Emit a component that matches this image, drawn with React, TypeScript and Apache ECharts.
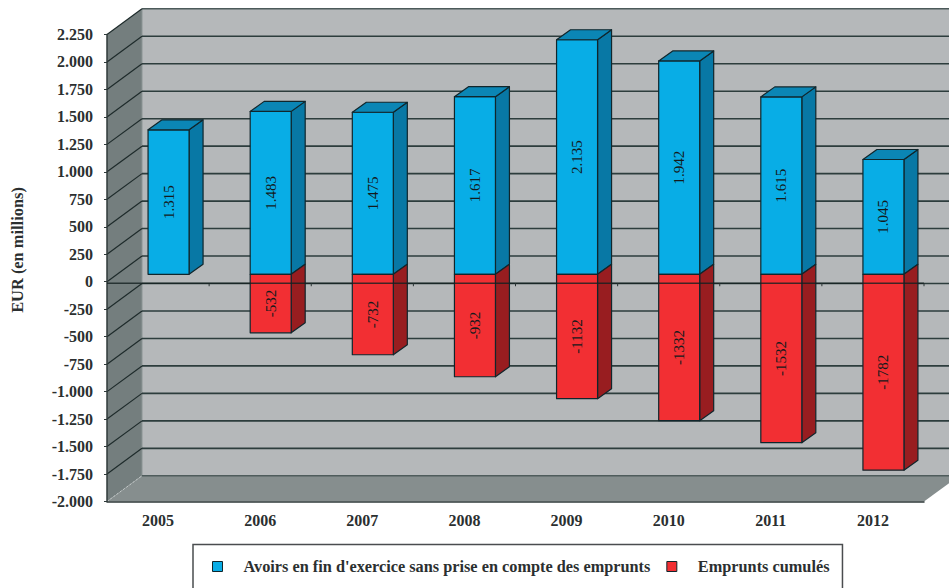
import React, { useEffect, useRef } from "react";
import * as echarts from "echarts";

const categories = ["2005", "2006", "2007", "2008", "2009", "2010", "2011", "2012"];
const avoirs = [1315, 1483, 1475, 1617, 2135, 1942, 1615, 1045];
const emprunts = [null, -532, -732, -932, -1132, -1332, -1532, -1782];
const yTicks = [2250, 2000, 1750, 1500, 1250, 1000, 750, 500, 250, 0, -250, -500, -750, -1000, -1250, -1500, -1750, -2000];
const avoirsName = "Avoirs en fin d'exercice sans prise en compte des emprunts";
const empruntsName = "Emprunts cumulés";
const yTitle = "EUR (en millions)";

const FONT = "'Liberation Serif', serif";
const INK = "#2b2f30";
const EDGE = "#10262c";

const fmtTick = (v: number) => {
  const a = Math.abs(v);
  const s = a >= 1000 ? `${Math.floor(a / 1000)}.${String(a % 1000).padStart(3, "0")}` : String(a);
  return (v < 0 ? "-" : "") + s;
};

const DX = 35; // chart depth
const DY = 25.7;

function renderWall(params: any, api: any) {
  const v = api.value(1);
  const left = api.coord([0, v]);
  const cs = params.coordSys;
  const x0 = cs.x;
  const x1 = cs.x + cs.width;
  const y = left[1];
  const children: any[] = [];
  const top = api.coord([0, 2250])[1];
  const bot = api.coord([0, -2000])[1];
  if (params.dataIndex === 0) {
    children.push(
      { type: "polygon", shape: { points: [[x0 + DX, top - DY], [x1 + DX, top - DY], [x1 + DX, bot - DY], [x0 + DX, bot - DY]] }, style: { fill: "#b5b8ba" } },
      { type: "polygon", shape: { points: [[x0, top], [x0 + DX, top - DY], [x0 + DX, bot - DY], [x0, bot]] }, style: { fill: "#747e7e" } },
      { type: "polygon", shape: { points: [[x0, bot], [x0 + DX, bot - DY], [x1 + DX, bot - DY], [x1, bot]] }, style: { fill: "#868e8e" } },
      { type: "line", shape: { x1: x0 + DX, y1: top - DY, x2: x0 + DX, y2: bot - DY }, style: { stroke: "#8b9494", lineWidth: 1 } },
      { type: "line", shape: { x1: x0 + DX, y1: top - DY, x2: x1 + DX, y2: top - DY }, style: { stroke: "#4c5a5a", lineWidth: 1.6 } },
    );
  }
  const isBottom = v === -2000;
  if (v !== 2250) {
    children.push({
      type: "line",
      shape: { x1: x0 + DX, y1: y - DY, x2: x1 + DX, y2: y - DY },
      style: { stroke: isBottom ? "#4f5c5c" : "#2d3d3d", lineWidth: 1.6 },
    });
  }
  children.push({
    type: "line",
    shape: { x1: x0, y1: y, x2: x0 + DX, y2: y - DY },
    style: isBottom ? { stroke: "#c3c9c9", lineWidth: 1, lineDash: [2, 2] } : { stroke: "#1e2b2b", lineWidth: 1.2 },
  });
  return { type: "group", children };
}

// The zero line sits slightly below the zero tick in the reference.
const ZERO_DROP = 1.5;

function renderZeroAxis(params: any, api: any) {
  const idx = api.value(0);
  const p = api.coord([idx, 0]);
  const band = api.size([1, 0])[0];
  const y = p[1] + ZERO_DROP;
  const xEnd = p[0] + band / 2;
  const children: any[] = [
    { type: "line", shape: { x1: xEnd, y1: y, x2: xEnd, y2: y + 3 }, style: { stroke: "#2a3434", lineWidth: 1 } },
  ];
  if (params.dataIndex === 0) {
    const cs = params.coordSys;
    children.push({
      type: "line",
      shape: { x1: cs.x, y1: y, x2: cs.x + cs.width, y2: y },
      style: { stroke: "rgba(20,32,32,0.8)", lineWidth: 1.5 },
    });
  }
  return { type: "group", children };
}

const BAR_W = 41;
const BAR_DX = 14;
const BAR_DY = 10;
const SHIFT_Y = 7.4;

function makeBar(front: string, top: string, side: string, isPos: boolean) {
  return (params: any, api: any) => {
    const v = api.value(1);
    if (v == null || Number.isNaN(v)) return null;
    const idx = api.value(0);
    const pV = api.coord([idx, v]);
    const p0 = api.coord([idx, 0]);
    const xl = pV[0] - 10;
    const xr = xl + BAR_W;
    const yV = pV[1] - SHIFT_Y;
    const y0 = p0[1] - SHIFT_Y;
    const yA = Math.min(yV, y0);
    const yB = Math.max(yV, y0);
    const lineStyle = { stroke: EDGE, lineWidth: 1.2, lineJoin: "round" };
    const children: any[] = [
      { type: "polygon", shape: { points: [[xr, yA], [xr + BAR_DX, yA - BAR_DY], [xr + BAR_DX, yB - BAR_DY], [xr, yB]] }, style: { fill: side, ...lineStyle } },
      { type: "rect", shape: { x: xl, y: yA, width: BAR_W, height: yB - yA }, style: { fill: front, ...lineStyle } },
    ];
    if (isPos) {
      children.push({ type: "polygon", shape: { points: [[xl, yA], [xl + BAR_DX, yA - BAR_DY], [xr + BAR_DX, yA - BAR_DY], [xr, yA]] }, style: { fill: top, ...lineStyle } });
    }
    children.push({
      type: "text",
      x: (xl + xr) / 2,
      y: (yA + yB) / 2,
      rotation: Math.PI / 2,
      style: {
        text: isPos ? fmtTick(v) : String(v),
        fill: "#141a1c",
        font: `15px ${FONT}`,
        align: "center",
        verticalAlign: "middle",
      },
    });
    return { type: "group", children };
  };
}

export default function App() {
  const ref = useRef<HTMLDivElement>(null);
  useEffect(() => {
    const chart = echarts.init(ref.current!, undefined, { renderer: "svg" });
    const labelFont = { fontFamily: FONT, fontWeight: "bold" as const, fontSize: 16, color: INK };
    chart.setOption({
      animation: false,
      backgroundColor: "#ffffff",
      grid: { left: 107, right: 25, top: 34.5, height: 467, containLabel: false },
      xAxis: {
        type: "category",
        data: categories,
        position: "bottom",
        axisLine: { onZero: false, lineStyle: { color: "#2f3a3a", width: 1.5 } },
        axisTick: { show: false },
        axisLabel: { ...labelFont, margin: 11 },
      },
      yAxis: {
        type: "value",
        min: -2000,
        max: 2250,
        interval: 250,
        axisLine: { show: true, onZero: false, lineStyle: { color: "#2f3a3a", width: 1.5 } },
        axisTick: { show: true, length: 3, lineStyle: { color: "#2f3a3a" } },
        splitLine: { show: false },
        axisLabel: { ...labelFont, margin: 14, formatter: (v: number) => fmtTick(v) },
      },
      legend: {
        left: 193,
        top: 544.5,
        padding: [14, 13, 45, 19],
        borderColor: "#4a4d4f",
        borderWidth: 1.5,
        backgroundColor: "#ffffff",
        itemWidth: 10,
        itemHeight: 10,
        itemGap: 16,
        icon: "rect",
        selectedMode: false,
        textStyle: { fontFamily: FONT, fontWeight: "bold", fontSize: 16.3, color: INK, padding: [0, 0, 0, 16] },
        data: [
          { name: avoirsName, itemStyle: { color: "#08ade6", borderColor: EDGE, borderWidth: 1 } },
          { name: empruntsName, itemStyle: { color: "#f22f33", borderColor: EDGE, borderWidth: 1 } },
        ],
      },
      graphic: [
        {
          type: "text",
          x: 17,
          y: 250,
          rotation: Math.PI / 2,
          style: { text: yTitle, font: `bold 16.4px ${FONT}`, fill: INK, align: "center", verticalAlign: "middle" },
        },
      ],
      series: [
        {
          type: "custom",
          name: "frame",
          clip: false,
          z: 0,
          silent: true,
          renderItem: renderWall,
          data: yTicks.map((t) => ["2005", t]),
          encode: { x: 0, y: 1 },
        },
        {
          type: "custom",
          name: avoirsName,
          clip: false,
          z: 3,
          renderItem: makeBar("#08ade6", "#0b86b5", "#0878a5", true),
          data: avoirs.map((v, i) => [categories[i], v]),
          encode: { x: 0, y: 1 },
        },
        {
          type: "custom",
          name: empruntsName,
          clip: false,
          z: 4,
          renderItem: makeBar("#f22f33", "#981d20", "#981d20", false),
          data: emprunts.map((v, i) => [categories[i], v]),
          encode: { x: 0, y: 1 },
        },
        {
          type: "custom",
          name: "zero axis",
          clip: false,
          z: 5,
          silent: true,
          renderItem: renderZeroAxis,
          data: categories.map((c) => [c, 0]),
          encode: { x: 0, y: 1 },
        },
      ],
    });
    return () => chart.dispose();
  }, []);
  return <div ref={ref} style={{ position: "absolute", left: 0, top: 0, width: 949, height: 588 }} />;
}
